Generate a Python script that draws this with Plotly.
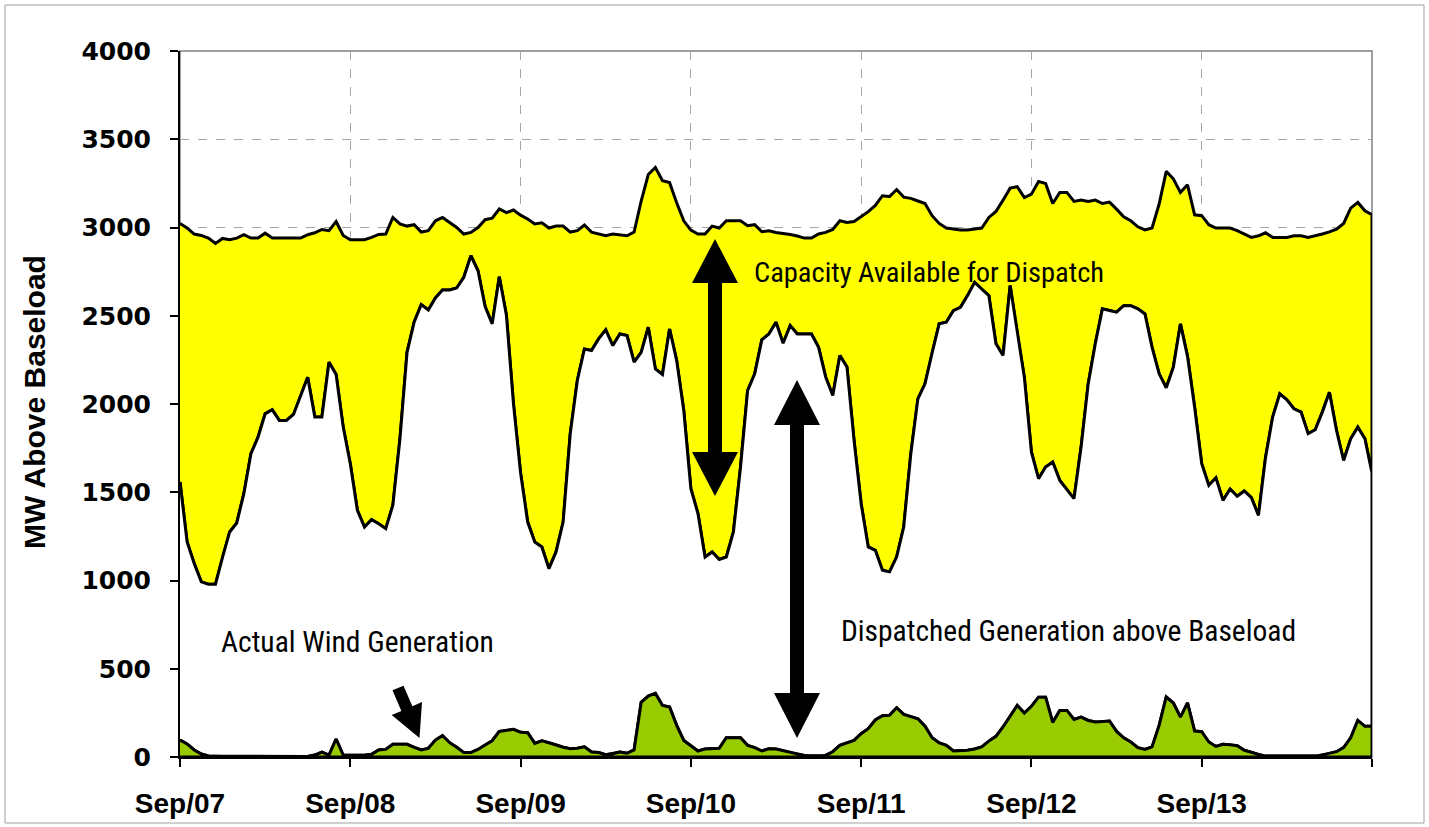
import math
import plotly.graph_objects as go

# ---------------- data (hourly, Sep 07 00:00 .. Sep 14 00:00) ----------------
hours = list(range(169))

capacity = [
    3023, 2997, 2963, 2955, 2940, 2910, 2938, 2931, 2940, 2959, 2940, 2940, 2968, 2940, 2940, 2940,
    2940, 2940, 2959, 2970, 2989, 2982, 3034, 2955, 2931, 2931, 2931, 2944, 2961, 2963, 3057, 3020,
    3008, 3016, 2974, 2982, 3038, 3057, 3029, 3000, 2963, 2972, 3000, 3044, 3053, 3105, 3084, 3099,
    3070, 3048, 3020, 3027, 2997, 3008, 3008, 2974, 2982, 3014, 2974, 2963, 2953, 2963, 2958, 2953,
    2974, 3150, 3300, 3340, 3265, 3255, 3140, 3038, 2985, 2963, 2963, 3008, 2997, 3038, 3038, 3038,
    3010, 3016, 2976, 2982, 2972, 2967, 2960, 2952, 2940, 2940, 2963, 2972, 2989, 3038, 3029, 3034,
    3060, 3090, 3125, 3180, 3175, 3215, 3172, 3165, 3150, 3136, 3067, 3023, 2997, 2990, 2986, 2986,
    2990, 2997, 3057, 3091, 3155, 3223, 3231, 3170, 3189, 3261, 3249, 3136, 3199, 3199, 3148, 3155,
    3148, 3155, 3136, 3144, 3104, 3061, 3038, 3004, 2986, 2997, 3133, 3318, 3276, 3199, 3242, 3072,
    3067, 3016, 2997, 2997, 2997, 2982, 2963, 2944, 2953, 2970, 2944, 2944, 2944, 2953, 2953, 2944,
    2952, 2963, 2975, 2990, 3023, 3110, 3142, 3095, 3072,
]

dispatched = [
    1558, 1218, 1096, 992, 979, 979, 1133, 1275, 1326, 1492, 1718, 1812, 1944, 1967, 1907, 1907,
    1941, 2048, 2152, 1926, 1926, 2237, 2167, 1869, 1662, 1398, 1303, 1345, 1322, 1294, 1426, 1803,
    2293, 2463, 2563, 2533, 2601, 2646, 2646, 2657, 2718, 2840, 2755, 2552, 2454, 2721, 2505, 2000,
    1610, 1331, 1218, 1190, 1067, 1162, 1331, 1832, 2133, 2312, 2303, 2369, 2420, 2331, 2397, 2388,
    2237, 2293, 2435, 2199, 2167, 2425, 2246, 1963, 1520, 1379, 1133, 1162, 1119, 1133, 1275, 1643,
    2076, 2171, 2363, 2397, 2463, 2344, 2444, 2397, 2397, 2397, 2321, 2152, 2048, 2275, 2210, 1794,
    1435, 1190, 1171, 1058, 1049, 1133, 1303, 1718, 2029, 2114, 2290, 2454, 2463, 2529, 2548, 2614,
    2689, 2650, 2614, 2341, 2275, 2671, 2397, 2152, 1727, 1577, 1643, 1671, 1567, 1515, 1464, 1756,
    2114, 2341, 2539, 2530, 2520, 2557, 2557, 2539, 2510, 2321, 2171, 2092, 2208, 2454, 2270, 1982,
    1662, 1539, 1582, 1454, 1518, 1477, 1507, 1469, 1369, 1699, 1926, 2058, 2024, 1973, 1954, 1832,
    1854, 1954, 2067, 1850, 1680, 1803, 1869, 1803, 1610,
]

wind = [
    96, 74, 40, 17, 6, 3, 3, 3, 3, 3, 3, 3, 3, 3, 3, 3,
    3, 3, 3, 11, 28, 11, 102, 11, 10, 10, 10, 15, 40, 43, 72, 72,
    72, 55, 40, 49, 96, 121, 81, 55, 25, 25, 43, 68, 92, 145, 149, 157,
    140, 138, 77, 92, 81, 68, 55, 47, 50, 58, 28, 25, 13, 19, 28, 21,
    40, 310, 345, 360, 292, 283, 179, 94, 66, 34, 45, 47, 49, 109, 109, 109,
    66, 53, 34, 47, 45, 35, 26, 15, 9, 5, 5, 9, 30, 66, 80, 94,
    132, 160, 210, 234, 236, 279, 241, 230, 217, 174, 109, 80, 66, 34, 34, 38,
    45, 57, 90, 117, 170, 230, 292, 249, 287, 339, 339, 196, 264, 264, 213, 226,
    207, 198, 200, 204, 145, 109, 85, 53, 43, 57, 179, 340, 306, 226, 306, 147,
    143, 85, 60, 72, 70, 64, 38, 25, 15, 5, 5, 5, 5, 5, 5, 5,
    5, 12, 19, 30, 53, 109, 207, 174, 174,
]

day_ticks = [0, 24, 48, 72, 96, 120, 144, 168]
day_labels = ["Sep/07", "Sep/08", "Sep/09", "Sep/10", "Sep/11", "Sep/12", "Sep/13", ""]
y_ticks = [0, 500, 1000, 1500, 2000, 2500, 3000, 3500, 4000]

# ---------------- layout geometry ----------------
W, H = 1429, 827
ML, MR, MT, MB = 180, 57, 51, 70
PW, PH = W - ML - MR, H - MT - MB
XMAX, YMAX = 168, 4000


def px2x(px):
    return (px - ML) / PW * XMAX


def py2y(py):
    return (MT + PH - py) / PH * YMAX


def poly_path(pts):
    return "M " + " L ".join(f"{px2x(a):.4f},{py2y(b):.3f}" for a, b in pts) + " Z"


def single_arrow(tail, tip, sw, hw, hl):
    dx, dy = tip[0] - tail[0], tip[1] - tail[1]
    L = math.hypot(dx, dy)
    ux, uy = dx / L, dy / L
    nx, ny = -uy, ux
    bx, by = tip[0] - ux * hl, tip[1] - uy * hl
    return [
        (tail[0] + nx * sw / 2, tail[1] + ny * sw / 2),
        (bx + nx * sw / 2, by + ny * sw / 2),
        (bx + nx * hw / 2, by + ny * hw / 2),
        tip,
        (bx - nx * hw / 2, by - ny * hw / 2),
        (bx - nx * sw / 2, by - ny * sw / 2),
        (tail[0] - nx * sw / 2, tail[1] - ny * sw / 2),
    ]


def double_arrow(xc, ytop, ybot, sw, hw, hl):
    return [
        (xc, ytop),
        (xc + hw / 2, ytop + hl),
        (xc + sw / 2, ytop + hl),
        (xc + sw / 2, ybot - hl),
        (xc + hw / 2, ybot - hl),
        (xc, ybot),
        (xc - hw / 2, ybot - hl),
        (xc - sw / 2, ybot - hl),
        (xc - sw / 2, ytop + hl),
        (xc - hw / 2, ytop + hl),
    ]


fig = go.Figure()

back = hours[::-1]
LW = 3
fig.add_trace(go.Scatter(
    x=hours + back, y=capacity + dispatched[::-1], mode="lines", fill="toself",
    fillcolor="#FFFF00", line=dict(color="black", width=LW), hoverinfo="skip"))
fig.add_trace(go.Scatter(
    x=hours + back, y=dispatched + wind[::-1], mode="lines", fill="toself",
    fillcolor="#FFFFFF", line=dict(color="black", width=LW), hoverinfo="skip"))
fig.add_trace(go.Scatter(
    x=hours + back, y=wind + [0] * len(hours), mode="lines", fill="toself",
    fillcolor="#99CC00", line=dict(color="black", width=LW), hoverinfo="skip"))

shapes = []
# plot-area frame (gray, behind)
shapes.append(dict(type="rect", xref="paper", yref="paper", x0=0, y0=0, x1=1, y1=1,
                   line=dict(color="#808080", width=1.5), layer="below"))
# outer chart border
shapes.append(dict(type="rect", xref="paper", yref="paper",
                   x0=(5 - ML) / PW, x1=(1424 - ML) / PW,
                   y0=(MT + PH - 823) / PH, y1=(MT + PH - 5) / PH,
                   line=dict(color="#A0A0A0", width=1), layer="below"))
# arrows (pixel geometry converted to data coordinates)
for pts in [
    double_arrow(715, 239, 496, 14, 46, 44),
    double_arrow(797, 380, 738, 14, 46, 45),
    single_arrow((398, 688), (419.5, 738), 12, 33, 32),
]:
    shapes.append(dict(type="path", xref="x", yref="y", path=poly_path(pts),
                       fillcolor="black", line=dict(width=0), layer="above"))

narrow = "Roboto Condensed, Liberation Sans Narrow, sans-serif"
annotations = [
    dict(text="Capacity Available for Dispatch", x=px2x(752), y=py2y(272), xref="x", yref="y",
         xanchor="left", yanchor="middle", showarrow=False,
         font=dict(family=narrow, size=28.5, color="black")),
    dict(text="Dispatched Generation above Baseload", x=px2x(839), y=py2y(631), xref="x", yref="y",
         xanchor="left", yanchor="middle", showarrow=False,
         font=dict(family=narrow, size=29.5, color="black")),
    dict(text="Actual Wind Generation", x=px2x(219), y=py2y(642), xref="x", yref="y",
         xanchor="left", yanchor="middle", showarrow=False,
         font=dict(family=narrow, size=29.5, color="black")),
    dict(text="MW Above Baseload", x=(35 - ML) / PW, y=(MT + PH - 402) / PH, xref="paper", yref="paper",
         xanchor="center", yanchor="middle", textangle=-90, showarrow=False,
         font=dict(family="Liberation Sans, Arial, sans-serif", size=30, color="black", weight="bold")),
]

fig.update_layout(
    width=W, height=H,
    margin=dict(l=ML, r=MR, t=MT, b=MB, pad=0, autoexpand=False),
    paper_bgcolor="white", plot_bgcolor="white",
    showlegend=False,
    shapes=shapes, annotations=annotations,
    xaxis=dict(range=[0, XMAX], tickvals=day_ticks, ticktext=day_labels, automargin=False,
               showgrid=True, gridcolor="#A6A6A6", griddash="dash", gridwidth=1,
               zeroline=False, showline=True, linecolor="black", linewidth=2,
               ticks="outside", ticklen=8, tickcolor="black", tickwidth=1.5,
               ticklabelstandoff=12,
               tickfont=dict(family="Liberation Sans, Arial, sans-serif", size=28,
                             color="black", weight="bold")),
    yaxis=dict(range=[0, YMAX], tickvals=y_ticks, automargin=False,
               showgrid=True, gridcolor="#A6A6A6", griddash="dash", gridwidth=1,
               zeroline=False, showline=True, linecolor="black", linewidth=2,
               ticks="outside", ticklen=8, tickcolor="black", tickwidth=1.5,
               ticklabelstandoff=14,
               tickfont=dict(family="DejaVu Sans, sans-serif", size=25,
                             color="black", weight="bold")),
)

fig.write_html("out.html", post_script="document.body.style.margin='0px';",
               config={"displayModeBar": False})
